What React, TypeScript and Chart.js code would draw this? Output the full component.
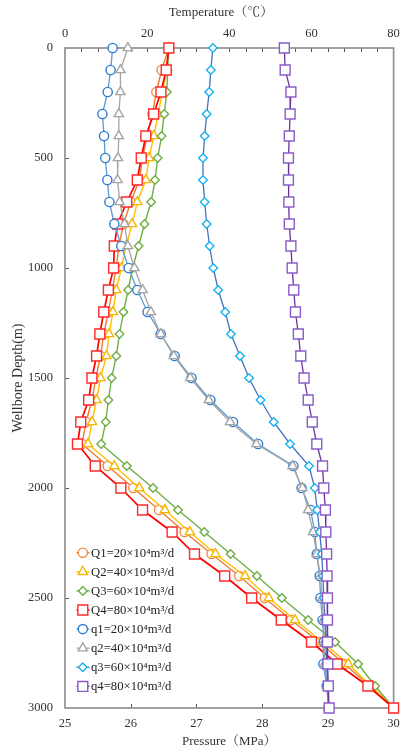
import React, { useEffect, useRef } from "react";
import { Chart, registerables } from "chart.js";

Chart.register(...registerables);

// ---------- data ----------
const depths = [
  0, 100, 200, 300, 400, 500, 600, 700, 800, 900, 1000, 1100, 1200, 1300, 1400, 1500,
  1600, 1700, 1800, 1900, 2000, 2100, 2200, 2300, 2400, 2500, 2600, 2700, 2800, 2900, 3000,
];

// Pressure (MPa), bottom axis
const pressureQ1 = [
  26.58, 26.47, 26.39, 26.33, 26.25, 26.18, 26.13, 26.0, 25.89, 25.82, 25.78, 25.72, 25.66, 25.59, 25.54, 25.47,
  25.41, 25.32, 25.26, 25.65, 26.04, 26.43, 26.82, 27.23, 27.65, 28.04, 28.44, 28.87, 29.25, 29.64, 30.0,
];
const pressureQ2 = [
  26.58, 26.55, 26.48, 26.42, 26.35, 26.28, 26.23, 26.1, 26.02, 25.93, 25.86, 25.78, 25.73, 25.67, 25.63, 25.54,
  25.48, 25.41, 25.35, 25.75, 26.13, 26.52, 26.9, 27.29, 27.74, 28.1, 28.5, 28.92, 29.31, 29.66, 30.0,
];
const pressureQ3 = [
  26.58, 26.56, 26.55, 26.51, 26.47, 26.41, 26.37, 26.31, 26.21, 26.12, 26.03, 25.96, 25.89, 25.83, 25.78, 25.71,
  25.66, 25.62, 25.55, 25.94, 26.34, 26.72, 27.12, 27.52, 27.92, 28.3, 28.7, 29.11, 29.46, 29.72, 30.0,
];
const pressureQ4 = [
  26.58, 26.54, 26.46, 26.35, 26.23, 26.16, 26.1, 25.94, 25.8, 25.75, 25.74, 25.66, 25.59, 25.53, 25.48, 25.41,
  25.36, 25.24, 25.19, 25.46, 25.85, 26.18, 26.63, 26.97, 27.43, 27.84, 28.29, 28.75, 29.14, 29.61, 30.0,
];

// Temperature (°C), top axis
const tempQ1 = [
  11.6, 11.1, 10.4, 9.1, 9.5, 9.8, 10.3, 10.8, 12.0, 13.7, 15.5, 17.6, 20.1, 23.3, 26.7, 30.8,
  35.4, 40.9, 47.0, 55.6, 57.6, 59.8, 60.8, 61.3, 62.0, 62.2, 62.7, 63.0, 62.9, 63.7, 64.2,
];
const tempQ2 = [
  15.3, 13.5, 13.5, 13.1, 13.1, 12.9, 12.8, 13.3, 14.5, 15.3, 16.9, 18.9, 20.9, 23.3, 26.5, 30.5,
  35.0, 40.2, 46.6, 55.4, 57.8, 59.2, 60.4, 61.3, 62.2, 62.6, 62.9, 63.1, 63.2, 63.8, 64.2,
];
const tempQ3 = [
  36.0, 35.5, 35.1, 34.5, 34.0, 33.6, 33.6, 34.0, 34.5, 35.2, 36.1, 37.3, 39.0, 40.4, 42.6, 44.8,
  47.6, 50.8, 54.8, 59.4, 60.8, 61.4, 62.0, 62.5, 62.8, 63.0, 63.3, 63.5, 63.7, 63.9, 64.2,
];
const tempQ4 = [
  53.4, 53.6, 55.0, 54.8, 54.6, 54.4, 54.4, 54.5, 54.6, 55.0, 55.3, 55.7, 56.1, 56.8, 57.4, 58.2,
  59.2, 60.2, 61.3, 62.7, 63.0, 63.4, 63.5, 63.7, 63.8, 63.9, 63.9, 63.9, 64.0, 64.1, 64.3,
];

const seriesLabels = [
  "Q1=20×10⁴m³/d",
  "Q2=40×10⁴m³/d",
  "Q3=60×10⁴m³/d",
  "Q4=80×10⁴m³/d",
  "q1=20×10⁴m³/d",
  "q2=40×10⁴m³/d",
  "q3=60×10⁴m³/d",
  "q4=80×10⁴m³/d",
];

const axisTitles = { depth: "Wellbore Depth(m)", pressure: "Pressure（MPa）", temperature: "Temperature（℃）" };

// ---------- styles ----------
const FONT = "'Liberation Serif', 'Times New Roman', 'Noto Serif CJK SC', 'Noto Sans CJK SC', serif";

type Style = { line: string; marker: string; shape: string; r: number; lw: number };
const styles: Style[] = [
  { line: "#ED7D31", marker: "#F08A45", shape: "circle", r: 4.6, lw: 1.4 },
  { line: "#FFC000", marker: "#F5B800", shape: "triangle", r: 5.3, lw: 1.4 },
  { line: "#70AD47", marker: "#70AD47", shape: "rectRot", r: 4.3, lw: 1.4 },
  { line: "#FF0000", marker: "#FF2A2A", shape: "rect", r: 7, lw: 1.7 },
  { line: "#5B9BD5", marker: "#2E7BCF", shape: "circle", r: 4.6, lw: 1.3 },
  { line: "#A5A5A5", marker: "#A5A5A5", shape: "triangle", r: 5.3, lw: 1.3 },
  { line: "#4472C4", marker: "#1AB3F0", shape: "rectRot", r: 4.3, lw: 1.3 },
  { line: "#7030A0", marker: "#8B5CC7", shape: "rect", r: 7, lw: 1.3 },
];

function drawMarker(ctx: CanvasRenderingContext2D, shape: string, x: number, y: number, r: number) {
  ctx.beginPath();
  if (shape === "circle") {
    ctx.arc(x, y, r, 0, Math.PI * 2);
  } else if (shape === "triangle") {
    let a = 0;
    ctx.moveTo(x + Math.sin(a) * r, y - Math.cos(a) * r);
    a += (2 * Math.PI) / 3;
    ctx.lineTo(x + Math.sin(a) * r, y - Math.cos(a) * r);
    a += (2 * Math.PI) / 3;
    ctx.lineTo(x + Math.sin(a) * r, y - Math.cos(a) * r);
    ctx.closePath();
  } else if (shape === "rectRot") {
    ctx.moveTo(x - r, y);
    ctx.lineTo(x, y - r);
    ctx.lineTo(x + r, y);
    ctx.lineTo(x, y + r);
    ctx.closePath();
  } else {
    const s = Math.SQRT1_2 * r;
    ctx.rect(x - s, y - s, 2 * s, 2 * s);
  }
  ctx.fillStyle = "#ffffff";
  ctx.fill();
  ctx.stroke();
}

const framePlugin = {
  id: "frameAndLegend",
  beforeDatasetsDraw(chart: any) {
    const { ctx, chartArea: a, scales } = chart;
    ctx.save();
    // ticks (inward)
    ctx.strokeStyle = "#5a5a5a";
    ctx.lineWidth = 1;
    ctx.beginPath();
    for (let t = 4; t < 80; t += 4) {
      const x = Math.round(scales.xT.getPixelForValue(t)) + 0.5;
      ctx.moveTo(x, a.top);
      ctx.lineTo(x, a.top + 4);
    }
    for (let p = 26; p < 30; p += 1) {
      const x = Math.round(scales.x.getPixelForValue(p)) + 0.5;
      ctx.moveTo(x, a.bottom);
      ctx.lineTo(x, a.bottom - 4);
    }
    for (let d = 500; d < 3000; d += 500) {
      const y = Math.round(scales.y.getPixelForValue(d)) + 0.5;
      ctx.moveTo(a.left, y);
      ctx.lineTo(a.left + 4, y);
    }
    ctx.stroke();
    // frame
    ctx.strokeStyle = "#8a8a8a";
    ctx.lineWidth = 1.6;
    ctx.strokeRect(a.left, a.top, a.right - a.left, a.bottom - a.top);
    ctx.restore();
  },
  afterDatasetsDraw(chart: any) {
    const { ctx, chartArea: a } = chart;
    ctx.save();
    // top axis title
    ctx.font = `13px ${FONT}`;
    ctx.fillStyle = "#333333";
    ctx.textAlign = "center";
    ctx.textBaseline = "middle";
    ctx.fillText(axisTitles.temperature, a.left + 156, 12.5);
    // legend
    const x0 = a.left + 11.5;
    const x1 = a.left + 24.5;
    const xm = a.left + 17.8;
    const xt = a.left + 26;
    const yStart = a.top + 504.7;
    const dy = 19.1;
    ctx.font = `12.7px ${FONT}`;
    ctx.textBaseline = "middle";
    ctx.textAlign = "left";
    seriesLabels.forEach((label, i) => {
      const st = styles[i];
      const y = yStart + dy * i;
      ctx.strokeStyle = st.line;
      ctx.lineWidth = st.lw;
      ctx.beginPath();
      ctx.moveTo(x0, y);
      ctx.lineTo(x1, y);
      ctx.stroke();
      ctx.strokeStyle = st.marker;
      ctx.lineWidth = 1.4;
      drawMarker(ctx, st.shape, xm, y, st.r);
      ctx.fillStyle = "#222222";
      ctx.fillText(label, xt, y + 0.5);
    });
    ctx.restore();
  },
};

const pressureSeries = [pressureQ1, pressureQ2, pressureQ3, pressureQ4];
const tempSeries = [tempQ1, tempQ2, tempQ3, tempQ4];

export default function App() {
  const canvasRef = useRef<HTMLCanvasElement | null>(null);

  useEffect(() => {
    if (!canvasRef.current) return;
    Chart.defaults.font.family = FONT;
    Chart.defaults.color = "#333333";

    const datasets: any[] = [];
    const addSeries = (vals: number[], i: number, axis: string) => {
      const st = styles[i];
      datasets.push({
        label: seriesLabels[i],
        data: vals.map((v, k) => ({ x: v, y: depths[k] })),
        xAxisID: axis,
        yAxisID: "y",
        borderColor: st.line,
        borderWidth: st.lw,
        pointStyle: st.shape,
        pointRadius: st.r,
        pointBorderColor: st.marker,
        pointBackgroundColor: "#ffffff",
        pointBorderWidth: 1.4,
        tension: 0,
        clip: false,
        order: 7 - i,
      });
    };
    pressureSeries.forEach((vals, i) => addSeries(vals, i, "x"));
    tempSeries.forEach((vals, j) => addSeries(vals, j + 4, "xT"));

    const tickFont = { size: 12.5, family: FONT };
    const titleFont = { size: 13, family: FONT };

    const chart = new Chart(canvasRef.current, {
      type: "line",
      data: { datasets },
      plugins: [framePlugin],
      options: {
        animation: false,
        responsive: false,
        devicePixelRatio: 1,
        layout: { padding: { left: 0, right: 5, top: 0, bottom: 0 } },
        plugins: { legend: { display: false }, tooltip: { enabled: false } },
        scales: {
          x: {
            type: "linear",
            position: "bottom",
            min: 25,
            max: 30,
            ticks: { stepSize: 1, padding: 8, maxRotation: 0, autoSkip: false, font: tickFont, color: "#333" },
            grid: { display: false, drawTicks: false },
            border: { display: false },
            title: { display: true, text: axisTitles.pressure, font: titleFont, color: "#333", padding: { top: 0, bottom: 1 } },
            afterFit: (s: any) => {
              s.height = 42;
              s.paddingLeft = 0;
              s.paddingRight = 0;
            },
          },
          xT: {
            type: "linear",
            position: "top",
            min: 0,
            max: 80,
            ticks: { stepSize: 20, padding: 7, maxRotation: 0, autoSkip: false, font: tickFont, color: "#333" },
            grid: { display: false, drawTicks: false },
            border: { display: false },
            title: { display: false, text: axisTitles.temperature },
            afterFit: (s: any) => {
              s.height = 48;
              s.paddingLeft = 0;
              s.paddingRight = 0;
            },
          },
          y: {
            type: "linear",
            position: "left",
            reverse: true,
            min: 0,
            max: 3000,
            ticks: {
              stepSize: 500,
              padding: 12,
              font: tickFont,
              color: "#333",
              callback: (v: any) => String(v),
            },
            grid: { display: false, drawTicks: false },
            border: { display: false },
            title: {
              display: true,
              text: axisTitles.depth,
              font: { size: 14, family: FONT },
              color: "#333",
              padding: { top: 10, bottom: 0 },
            },
            afterFit: (s: any) => {
              s.width = 65;
              s.paddingTop = 0;
              s.paddingBottom = 0;
            },
          },
        },
      } as any,
    });

    return () => chart.destroy();
  }, []);

  return (
    <div style={{ position: "fixed", left: 0, top: 0, width: 402, height: 750, background: "#fff" }}>
      <canvas ref={canvasRef} width={402} height={750} style={{ display: "block", width: 402, height: 750 }} />
    </div>
  );
}
